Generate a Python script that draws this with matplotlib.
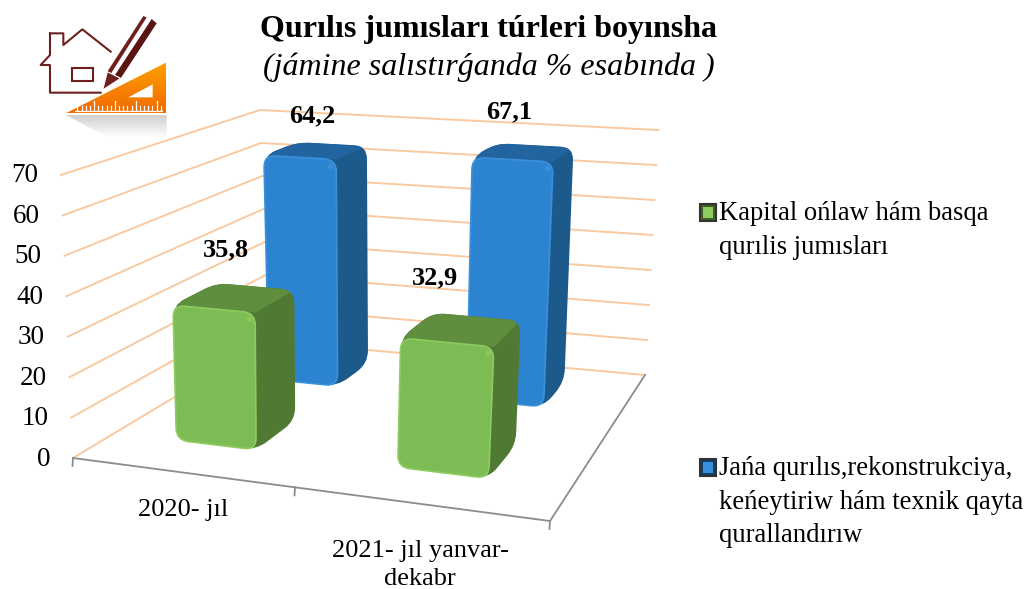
import matplotlib
matplotlib.use("Agg")
import matplotlib.pyplot as plt
import numpy as np
from matplotlib.patches import PathPatch, Polygon, Rectangle
from matplotlib.path import Path

categories = ["2020- jıl", "2021- jıl yanvar-\ndekabr"]
kapital = [35.8, 32.9]
jana = [64.2, 67.1]
value_labels_green = ["35,8", "32,9"]
value_labels_blue = ["64,2", "67,1"]
y_ticks = [0, 10, 20, 30, 40, 50, 60, 70]

plt.rcParams["font.family"] = ["Liberation Serif", "DejaVu Serif"]

# 3d frame: floor and top plane homographies, value axis linear between them
corners = [(0, 0), (2, 0), (2, 1), (0, 1)]
floor_px = [(73, 458), (550, 521), (645, 375), (268, 341)]
top_px = [(61, 175), (567, 211), (658, 130), (260, 110)]
# the bevel makes the bars a bit shorter than the wall scale
GREEN_SCALE = 0.96
BLUE_SCALE = 0.985


def homography(src, dst):
    rows, rhs = [], []
    for (a, b), (px, py) in zip(src, dst):
        rows.append([a, b, 1, 0, 0, 0, -px * a, -px * b])
        rhs.append(px)
        rows.append([0, 0, 0, a, b, 1, -py * a, -py * b])
        rhs.append(py)
    return np.append(np.linalg.solve(np.array(rows, float), np.array(rhs, float)), 1).reshape(3, 3)


H0 = homography(corners, floor_px)
H1 = homography(corners, top_px)


def proj(a, b, c):
    v0 = H0 @ np.array([a, b, 1.0])
    v1 = H1 @ np.array([a, b, 1.0])
    t = c / 70
    return tuple((1 - t) * v0[:2] / v0[2] + t * v1[:2] / v1[2])


def rounded(pts, r):
    pts = np.array(pts, float)
    n = len(pts)
    verts, codes = [], []
    for i in range(n):
        p, a, b = pts[i], pts[i - 1], pts[(i + 1) % n]
        d1 = (a - p) / np.linalg.norm(a - p)
        d2 = (b - p) / np.linalg.norm(b - p)
        r1 = min(r, np.linalg.norm(a - p) / 2)
        r2 = min(r, np.linalg.norm(b - p) / 2)
        verts.append(p + d1 * r1)
        codes.append(Path.MOVETO if i == 0 else Path.LINETO)
        verts += [p, p + d2 * r2]
        codes += [Path.CURVE3, Path.CURVE3]
    verts.append(verts[0])
    codes.append(Path.CLOSEPOLY)
    return Path(verts, codes)


def bar3d(ax, u0, u1, d0, d1, val, front, top, side, edge, z):
    f = [proj(u0, d0, 0), proj(u1, d0, 0), proj(u1, d0, val), proj(u0, d0, val)]
    hull = [proj(u0, d0, 0), proj(u1, d0, 0), proj(u1, d1, 0), proj(u1, d1, val), proj(u0, d1, val), proj(u0, d0, val)]
    t = [proj(u0, d0, val), proj(u1, d0, val), proj(u1, d1, val), proj(u0, d1, val)]
    ax.add_patch(PathPatch(rounded(hull, 13), fc=side, ec="none", zorder=z))
    clip = PathPatch(rounded(hull, 13), transform=ax.transData, fc="none", ec="none")
    ax.add_patch(clip)
    tp = ax.add_patch(Polygon(t, fc=top, ec="none", zorder=z + 0.1))
    tp.set_clip_path(clip)
    ax.add_patch(PathPatch(rounded(f, 12), fc=front, ec=edge, lw=1.2, zorder=z + 0.2))
    hx, hy = proj(u1, d0, val)
    ax.plot([hx - 6], [hy + 6], "o", ms=4, color=edge, mec="none", alpha=0.9, zorder=z + 0.3)


def gradient(ax, clip_path, extent, c0, c1, z):
    g = np.linspace(0, 1, 64)[:, None, None]
    img = (1 - g) * np.array(matplotlib.colors.to_rgba(c0)) + g * np.array(matplotlib.colors.to_rgba(c1))
    im = ax.imshow(img, extent=extent, origin="upper", aspect="auto", zorder=z, interpolation="bilinear")
    im.set_clip_path(PathPatch(clip_path, transform=ax.transData))


def draw_logo(ax):
    red = "#6E2020"
    s = 1 / 3
    house = np.array([(150, 100), (190, 100), (190, 135), (247, 88), (332, 155)]) * s
    body = np.array([(150, 100), (150, 165), (122, 195), (150, 195), (150, 278), (302, 278)]) * s
    ax.plot(house[:, 0], house[:, 1], color=red, lw=1.5, zorder=6)
    ax.plot(body[:, 0], body[:, 1], color=red, lw=1.5, zorder=6)
    ax.add_patch(Rectangle((217 * s, 203 * s), 63 * s, 39 * s, fc="none", ec=red, lw=1.5, zorder=6))
    ax.add_patch(Polygon(np.array([(322, 215), (430, 48), (440, 52), (332, 222)]) * s, fc=red, ec="none", zorder=6))
    ax.add_patch(Polygon(np.array([(345, 225), (455, 57), (470, 70), (362, 235)]) * s, fc="#5A1414", ec="none", zorder=6))
    ax.add_patch(Polygon(np.array([(322, 215), (362, 235), (308, 270)]) * s, fc=red, ec="white", lw=0.8, zorder=6))
    tri = Path(np.array([(197, 340), (498, 188), (498, 340), (197, 340)]) * s)
    gradient(ax, tri, (197 * s, 498 * s, 340 * s, 188 * s), "#FFA000", "#F06A00", 5)
    ax.add_patch(Polygon(np.array([(385, 292), (458, 253), (458, 292)]) * s, fc="white", ec="none", zorder=6))
    for i, xt in enumerate(np.arange(232, 486, 12.5)):
        ax.plot([xt * s, xt * s], [330 * s, (302 if i % 5 == 4 else 318) * s], color="white", lw=0.9, zorder=6)
    ax.plot([225 * s, 487 * s], [333 * s, 333 * s], color="white", lw=0.9, zorder=6)
    shadow = Path(np.array([(197, 345), (500, 345), (500, 415), (330, 415), (197, 345)]) * s)
    gradient(ax, shadow, (197 * s, 500 * s, 415 * s, 345 * s), "#CFCFCF", "#FFFFFF", 5)


fig = plt.figure(figsize=(10.27, 5.89), dpi=100)
ax = fig.add_axes([0, 0, 1, 1])

# walls
for v in y_ticks:
    a, b, c = proj(0, 0, v), proj(0, 1, v), proj(2, 1, v)
    ax.plot([a[0], b[0], c[0]], [a[1], b[1], c[1]], color="#F9C9A0", lw=1.4, zorder=1)
    ax.text(a[0] - 23, a[1] + 1, str(v), ha="right", va="center", fontsize=19.5, color="black")

# floor edges and ticks
gray = "#8C8C8C"
p0, p1, p2 = proj(0, 0, 0), proj(2, 0, 0), proj(2, 1, 0)
ax.plot([p0[0], p1[0], p2[0]], [p0[1], p1[1], p2[1]], color=gray, lw=1.3, zorder=2)
for u in range(3):
    q = proj(u, 0, 0)
    ax.plot([q[0], q[0] - 0.5], [q[1], q[1] + 8], color=gray, lw=1.3, zorder=2)

# bars, back row first
for i, val in enumerate(jana):
    bar3d(ax, i + 0.30, i + 0.66, 0.667, 0.88, val * BLUE_SCALE, "#2C84D0", "#22649F", "#1C5A8C", "#3A90DA", 3 + i * 0.5)
for i, val in enumerate(kapital):
    bar3d(ax, i + 0.30, i + 0.675, 0.176, 0.387, val * GREEN_SCALE, "#7DBB55", "#5F8F3E", "#507A33", "#8FCC5F", 4 + i * 0.5)

draw_logo(ax)

# value labels
label_pos_green = [(226, 250), (435, 278)]
label_pos_blue = [(312, 116), (509, 112)]
for s, p in zip(value_labels_green, label_pos_green):
    ax.text(p[0], p[1], s, ha="center", va="center", fontsize=19, fontweight="bold", zorder=8)
for s, p in zip(value_labels_blue, label_pos_blue):
    ax.text(p[0], p[1], s, ha="center", va="center", fontsize=19, fontweight="bold", zorder=8)

ax.text(183, 510, categories[0], ha="center", va="center", fontsize=19)
ax.text(420, 565, categories[1], ha="center", va="center", fontsize=19, linespacing=1.35)

ax.text(489, 30, "Qurılıs jumısları túrleri boyınsha", ha="center", va="center", fontsize=23, fontweight="bold")
ax.text(489, 67, "(jámine salıstırǵanda % esabında )", ha="center", va="center", fontsize=23, fontstyle="italic")

# legend
for y, c0, c1, txt in [(204, "#8FCC5F", "#3F6128", "Kapital ońlaw hám basqa\nqurılis jumısları"),
                       (459, "#3A90DA", "#123F66", "Jańa qurılıs,rekonstrukciya,\nkeńeytiriw hám texnik qayta\nqurallandırıw")]:
    ax.add_patch(Rectangle((699.5, y), 16.5, 16.5, fc=c1, ec="#333333", lw=1.5, zorder=5))
    ax.add_patch(Rectangle((702.5, y + 3), 10.5, 10.5, fc=c0, ec="none", zorder=6))
    ax.text(719, y - 3, txt, ha="left", va="top", fontsize=19.2, linespacing=1.46)

ax.set_xlim(0, 1027)
ax.set_ylim(589, 0)
ax.axis("off")
fig.savefig("out.png", dpi=100)
